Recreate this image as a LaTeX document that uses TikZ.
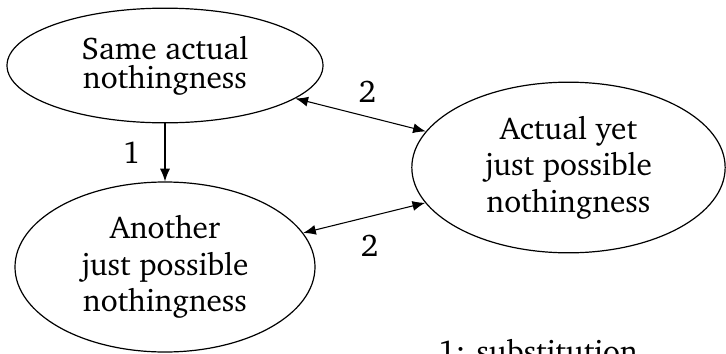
\documentclass[tikz,border=0pt]{standalone}
\usepackage[T1]{fontenc}
\usepackage{charter}
\usetikzlibrary{shapes.geometric,arrows.meta}

\tikzset{
  state/.style={ellipse, draw, line width=0.9pt, inner sep=0pt, align=center,
    font=\fontsize{23.5}{27.5}\selectfont},
  link/.style={line width=0.8pt, >={Latex[length=9.5pt,width=7.5pt]}},
  lbl/.style={font=\fontsize{23.5}{27.5}\selectfont}
}

\begin{document}
\begin{tikzpicture}[x=0.75pt, y=-0.75pt]
    \useasboundingbox (0,0) rectangle (726,354);

    % the three kinds of nothingness
    \node[state, minimum width=237pt, minimum height=86pt,
          font=\fontsize{23.5}{22}\selectfont] (same) at (165,65.5) {Same actual\\nothingness};
    \node[state, minimum width=225pt, minimum height=127.5pt] (another) at (165,267) {Another\\just possible\\nothingness};
    \node[state, minimum width=235pt, minimum height=128pt] (actual) at (568.5,167.5) {Actual yet\\just possible\\nothingness};

    % relations
    \draw[link, ->] (same) -- node[lbl, xshift=-25pt] {1} (another);
    \draw[link, <->] (same) -- node[lbl, xshift=5pt, yshift=17.6pt] {2} (actual);
    \draw[link, <->] (another) -- node[lbl, xshift=4pt, yshift=-21pt] {2} (actual);

    % key, cut off by the page edge
    \node[lbl, anchor=base west, inner sep=0pt] (key) at (438,362) {1: substitution};
\end{tikzpicture}
\end{document}
